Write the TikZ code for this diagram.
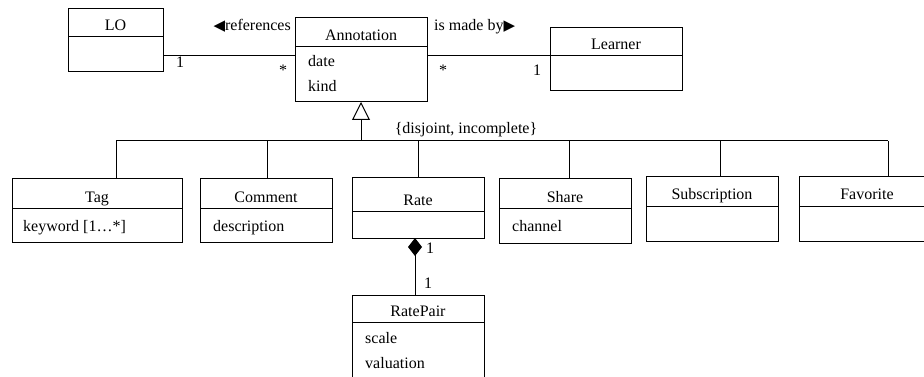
\documentclass[tikz,border=0pt]{standalone}
\usepackage{fontspec}
\setmainfont{Liberation Serif}
\newfontfamily\symfont{DejaVu Sans}
\usetikzlibrary{arrows.meta}
\tikzset{
  box/.style={draw, line width=1pt, inner sep=0pt, outer sep=0pt},
  attr/.style={anchor=base west, inner sep=0pt},
  lbl/.style={anchor=base, inner sep=0pt},
  conn/.style={line width=1pt},
}
\newcommand\umlclass[7]{%
  \node[box, minimum width={(#4-#2)*1pt}, minimum height={(#5-#3)*1pt}, anchor=north west] (#1) at (#2,#3) {};
  \draw[conn] (#2,#6) -- (#4,#6);
  \node[lbl] (#1-title) at ({(#2+#4)/2},{#6-6}) {#7};
}
\begin{document}
\begin{tikzpicture}[x=1pt,y=-1pt,font=\fontsize{16}{19}\selectfont]
\useasboundingbox (0,0) rectangle (924,377);
% classes
\umlclass{lo}{68}{9}{163}{72}{37}{LO}
\umlclass{ann}{295}{18}{427}{102}{47}{Annotation}
\node[attr] (ann-a1) at (308,67) {date};
\node[attr] (ann-a2) at (308,92) {kind};
\umlclass{lrn}{550}{28}{682}{91}{56}{Learner}
\umlclass{tag}{12}{179}{182}{242}{208}{Tag}
\node[attr] (tag-a1) at (23,231) {keyword [1…*]};
\umlclass{com}{200}{179}{332}{242}{208}{Comment}
\node[attr] (com-a1) at (213,231) {description};
\umlclass{rate}{352}{178}{484}{238}{211}{Rate}
\umlclass{shr}{499}{179}{631}{243}{208}{Share}
\node[attr] (shr-a1) at (512,231) {channel};
\umlclass{sub}{646}{177}{778}{241}{206}{Subscription}
\umlclass{fav}{799}{177}{935}{241}{206}{Favorite}
\umlclass{rp}{352}{295}{484}{395}{322}{RatePair}
\node[attr] (rp-a1) at (365,343) {scale};
\node[attr] (rp-a2) at (365,368) {valuation};
% associations
\coordinate (l1) at (0,56);
\draw[conn] (lo.east |- l1) -- (ann.west |- l1);
\draw[conn] (ann.east |- l1) -- (lrn.west |- l1);
\node[lbl] (m1) at (180,68) {1};
\node[lbl] (m2) at (283,76) {*};
\node[lbl] (m3) at (443,76) {*};
\node[lbl] (m4) at (537,76) {1};
\node[anchor=base east, inner sep=0pt] (refl) at (291,31) {{\symfont\fontsize{15}{17}\selectfont ◀}references};
\node[anchor=base west, inner sep=0pt] (madel) at (434,31) {is made by{\symfont\fontsize{15}{17}\selectfont ▶}};
% generalization
\coordinate (bus) at (361,141);
\draw[conn, -{Triangle[open, length=18pt, width=18pt]}] (bus) -- (ann.south);
\node[lbl] (gl) at (466,134) {\{disjoint, incomplete\}};
\coordinate (s1) at (116,141);
\coordinate (s2) at (267,141);
\coordinate (s3) at (418,141);
\coordinate (s4) at (569,141);
\coordinate (s5) at (720,141);
\coordinate (s6) at (888,141);
\draw[conn] (s1) -- (s6);
\draw[conn] (s1) -- (s1 |- tag.north);
\draw[conn] (s2) -- (s2 |- com.north);
\draw[conn] (s3) -- (s3 |- rate.north);
\draw[conn] (s4) -- (s4 |- shr.north);
\draw[conn] (s5) -- (s5 |- sub.north);
\draw[conn] (s6) -- (s6 |- fav.north);
% composition
\coordinate (c1) at (415,0);
\draw[conn, -{Diamond[length=18pt, width=14pt]}] (c1 |- rp.north) -- (c1 |- rate.south);
\node[lbl] (m5) at (430,253) {1};
\node[lbl] (m6) at (428,288) {1};
\end{tikzpicture}
\end{document}
